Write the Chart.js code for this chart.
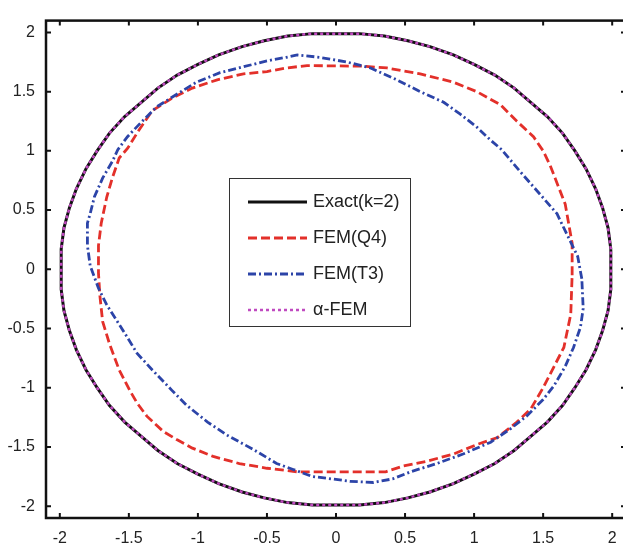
<!DOCTYPE html>
<html>
<head>
<meta charset="utf-8">
<script src="https://cdn.jsdelivr.net/npm/chart.js@4.4.1/dist/chart.umd.min.js"></script>
<style>
  html, body { margin: 0; padding: 0; background: #fff; overflow: hidden; }
  #wrap { position: relative; width: 630px; height: 547px; }
</style>
</head>
<body>
<div id="wrap"><canvas id="contour"></canvas></div>
<script>
// tick positions, same on both axes
const xTicks = [-2, -1.5, -1, -0.5, 0, 0.5, 1, 1.5, 2];
const yTicks = [-2, -1.5, -1, -0.5, 0, 0.5, 1, 1.5, 2];

// exact contour (k=2)
const exactX = [1.99, 1.97, 1.93, 1.88, 1.81, 1.73, 1.64, 1.53, 1.41, 1.29, 1.15, 1.00, 0.85, 0.68, 0.52, 0.35, 0.17,
                -0.17, -0.35, -0.52, -0.68, -0.85, -1.00, -1.15, -1.29, -1.41, -1.53, -1.64, -1.73, -1.81, -1.88, -1.93, -1.97, -1.99,
                -1.99, -1.97, -1.93, -1.88, -1.81, -1.73, -1.64, -1.53, -1.41, -1.29, -1.15, -1.00, -0.85, -0.68, -0.52, -0.35, -0.17,
                0.17, 0.35, 0.52, 0.68, 0.85, 1.00, 1.15, 1.29, 1.41, 1.53, 1.64, 1.73, 1.81, 1.88, 1.93, 1.97, 1.99, 1.99];
const exactY = [0.17, 0.35, 0.52, 0.68, 0.85, 1.00, 1.15, 1.29, 1.41, 1.53, 1.64, 1.73, 1.81, 1.88, 1.93, 1.97, 1.99,
                1.99, 1.97, 1.93, 1.88, 1.81, 1.73, 1.64, 1.53, 1.41, 1.29, 1.15, 1.00, 0.85, 0.68, 0.52, 0.35, 0.17,
                -0.17, -0.35, -0.52, -0.68, -0.85, -1.00, -1.15, -1.29, -1.41, -1.53, -1.64, -1.73, -1.81, -1.88, -1.93, -1.97, -1.99,
                -1.99, -1.97, -1.93, -1.88, -1.81, -1.73, -1.64, -1.53, -1.41, -1.29, -1.15, -1.00, -0.85, -0.68, -0.52, -0.35, -0.17, 0.17];

// FEM with Q4 elements
const q4X = [1.71, 1.71, 1.66, 1.55, 1.50, 1.43, 1.31, 1.19, 1.02, 0.85, 0.61, 0.37, 0.20, -0.21, -0.36, -0.50, -0.67, -0.86, -1.04, -1.18, -1.33, -1.43,
             -1.51, -1.57, -1.62, -1.66, -1.70, -1.72, -1.72, -1.71, -1.69, -1.64, -1.57, -1.49, -1.44, -1.37, -1.25, -1.15, -1.04, -0.89, -0.70, -0.50,
             -0.28, 0.36, 0.49, 0.66, 0.85, 1.02, 1.17, 1.31, 1.41, 1.50, 1.65, 1.70, 1.71];
const q4Y = [-0.05, 0.22, 0.55, 0.88, 1.00, 1.12, 1.25, 1.39, 1.50, 1.58, 1.65, 1.70, 1.715, 1.72, 1.70, 1.67, 1.65, 1.60, 1.53, 1.45, 1.34, 1.17,
             1.02, 0.94, 0.77, 0.61, 0.39, 0.20, -0.03, -0.22, -0.44, -0.63, -0.85, -1.03, -1.13, -1.24, -1.37, -1.44, -1.51, -1.58, -1.64, -1.68,
             -1.71, -1.71, -1.66, -1.62, -1.56, -1.48, -1.42, -1.29, -1.18, -1.00, -0.66, -0.38, -0.05];

// FEM with T3 elements
const t3X = [1.78, 1.75, 1.67, 1.60, 1.48, 1.33, 1.20, 1.12, 1.02, 0.90, 0.78, 0.61, 0.44, 0.25, 0.08, -0.12, -0.28, -0.36, -0.50, -0.67, -0.84,
             -1.01, -1.15, -1.30, -1.42, -1.51, -1.58, -1.62, -1.69, -1.75, -1.78, -1.80, -1.80, -1.78, -1.72, -1.66, -1.54, -1.44, -1.33, -1.19,
             -1.08, -0.93, -0.79, -0.60, -0.43, -0.31, -0.17, -0.03, 0.10, 0.27, 0.41, 0.54, 0.73, 0.92, 1.12, 1.26, 1.38, 1.50, 1.58, 1.66, 1.72,
             1.77, 1.79, 1.78];
const t3Y = [-0.08, 0.11, 0.30, 0.47, 0.63, 0.83, 1.01, 1.09, 1.20, 1.31, 1.41, 1.50, 1.60, 1.70, 1.75, 1.79, 1.81, 1.79, 1.76, 1.71, 1.66,
             1.58, 1.48, 1.37, 1.23, 1.12, 1.01, 0.91, 0.77, 0.61, 0.47, 0.39, 0.20, 0.03, -0.16, -0.30, -0.52, -0.71, -0.85, -1.02,
             -1.15, -1.29, -1.40, -1.52, -1.64, -1.69, -1.75, -1.77, -1.79, -1.80, -1.77, -1.71, -1.64, -1.56, -1.46, -1.35, -1.24, -1.10, -0.98, -0.82, -0.66,
             -0.49, -0.33, -0.08];

// alpha-FEM, sits on the exact contour
const alphaX = [1.99, 1.97, 1.93, 1.88, 1.81, 1.73, 1.64, 1.53, 1.41, 1.29, 1.15, 1.00, 0.85, 0.68, 0.52, 0.35, 0.17,
                -0.17, -0.35, -0.52, -0.68, -0.85, -1.00, -1.15, -1.29, -1.41, -1.53, -1.64, -1.73, -1.81, -1.88, -1.93, -1.97, -1.99,
                -1.99, -1.97, -1.93, -1.88, -1.81, -1.73, -1.64, -1.53, -1.41, -1.29, -1.15, -1.00, -0.85, -0.68, -0.52, -0.35, -0.17,
                0.17, 0.35, 0.52, 0.68, 0.85, 1.00, 1.15, 1.29, 1.41, 1.53, 1.64, 1.73, 1.81, 1.88, 1.93, 1.97, 1.99, 1.99];
const alphaY = [0.17, 0.35, 0.52, 0.68, 0.85, 1.00, 1.15, 1.29, 1.41, 1.53, 1.64, 1.73, 1.81, 1.88, 1.93, 1.97, 1.99,
                1.99, 1.97, 1.93, 1.88, 1.81, 1.73, 1.64, 1.53, 1.41, 1.29, 1.15, 1.00, 0.85, 0.68, 0.52, 0.35, 0.17,
                -0.17, -0.35, -0.52, -0.68, -0.85, -1.00, -1.15, -1.29, -1.41, -1.53, -1.64, -1.73, -1.81, -1.88, -1.93, -1.97, -1.99,
                -1.99, -1.97, -1.93, -1.88, -1.81, -1.73, -1.64, -1.53, -1.41, -1.29, -1.15, -1.00, -0.85, -0.68, -0.52, -0.35, -0.17, 0.17];

const seriesNames = ['Exact(k=2)', 'FEM(Q4)', 'FEM(T3)', 'α-FEM'];

const toPoints = (xs, ys) => xs.map((x, i) => ({ x: x, y: ys[i] }));

Chart.defaults.font.family = '"Liberation Sans", Arial, Helvetica, sans-serif';
Chart.defaults.color = '#222';

// black frame with short inward ticks on all four sides
const boxFrame = {
    id: 'boxFrame',
    afterDraw(chart) {
        const { ctx, chartArea: a, scales } = chart;
        ctx.save();
        ctx.strokeStyle = '#111';
        ctx.lineWidth = 2;
        ctx.beginPath();
        xTicks.forEach(v => {
            const px = scales.x.getPixelForValue(v);
            ctx.moveTo(px, a.bottom); ctx.lineTo(px, a.bottom - 5);
            ctx.moveTo(px, a.top); ctx.lineTo(px, a.top + 5);
        });
        yTicks.forEach(v => {
            const py = scales.y.getPixelForValue(v);
            ctx.moveTo(a.left, py); ctx.lineTo(a.left + 5, py);
            ctx.moveTo(a.right, py); ctx.lineTo(a.right - 5, py);
        });
        ctx.stroke();
        ctx.lineWidth = 2.5;
        ctx.strokeRect(a.left, a.top, a.right - a.left, a.bottom - a.top);
        ctx.restore();
    }
};

// boxed legend in the middle of the plot
const boxLegend = {
    id: 'boxLegend',
    afterDraw(chart) {
        const ctx = chart.ctx;
        const left = 229, top = 178, width = 181, height = 148;
        ctx.save();
        ctx.fillStyle = '#fff';
        ctx.fillRect(left, top, width, height);
        ctx.strokeStyle = '#333';
        ctx.lineWidth = 1;
        ctx.strokeRect(left + 0.5, top + 0.5, width, height);
        ctx.font = '18px "Liberation Sans", Arial, sans-serif';
        ctx.textBaseline = 'middle';
        chart.data.datasets.forEach((ds, i) => {
            const y = top + 24 + i * 36;
            ctx.strokeStyle = ds.borderColor;
            ctx.lineWidth = ds.borderWidth;
            ctx.setLineDash(ds.borderDash || []);
            ctx.beginPath();
            ctx.moveTo(248, y);
            ctx.lineTo(307, y);
            ctx.stroke();
            ctx.setLineDash([]);
            ctx.fillStyle = '#222';
            ctx.fillText(ds.label, 313, y);
        });
        ctx.restore();
    }
};

const axisCommon = {
    type: 'linear',
    min: -2.1,
    max: 2.1,
    grid: { display: false, drawTicks: false },
    border: { display: false },
    ticks: {
        font: { size: 16 },
        color: '#222',
        callback: v => String(v)
    }
};

new Chart(document.getElementById('contour'), {
    type: 'scatter',
    data: {
        datasets: [
            {
                label: seriesNames[0],
                data: toPoints(exactX, exactY),
                borderColor: '#111',
                borderWidth: 3,
                order: 4
            },
            {
                label: seriesNames[1],
                data: toPoints(q4X, q4Y),
                borderColor: '#e3302a',
                borderWidth: 2.8,
                borderDash: [9, 4],
                order: 3
            },
            {
                label: seriesNames[2],
                data: toPoints(t3X, t3Y),
                borderColor: '#2c44a8',
                borderWidth: 2.8,
                borderDash: [8, 3, 2, 3],
                order: 2
            },
            {
                label: seriesNames[3],
                data: toPoints(alphaX, alphaY),
                borderColor: '#c04ac0',
                borderWidth: 2.5,
                borderDash: [3, 3],
                order: 1
            }
        ]
    },
    options: {
        responsive: true,
        maintainAspectRatio: false,
        animation: false,
        showLine: true,
        elements: {
            point: { radius: 0, hoverRadius: 0 },
            line: { tension: 0, fill: false }
        },
        layout: { padding: { top: 10, right: 4, left: 0, bottom: 0 } },
        plugins: {
            legend: { display: false },
            tooltip: { enabled: false }
        },
        scales: {
            x: {
                ...axisCommon,
                position: 'bottom',
                ticks: { ...axisCommon.ticks, padding: 11, maxRotation: 0 },
                afterBuildTicks: s => { s.ticks = xTicks.map(v => ({ value: v })); },
                afterFit: s => { s.height = 29; }
            },
            y: {
                ...axisCommon,
                position: 'left',
                ticks: { ...axisCommon.ticks, padding: 11 },
                afterBuildTicks: s => { s.ticks = yTicks.map(v => ({ value: v })); },
                afterFit: s => { s.width = 46; }
            }
        }
    },
    plugins: [boxFrame, boxLegend]
});
</script>
</body>
</html>
